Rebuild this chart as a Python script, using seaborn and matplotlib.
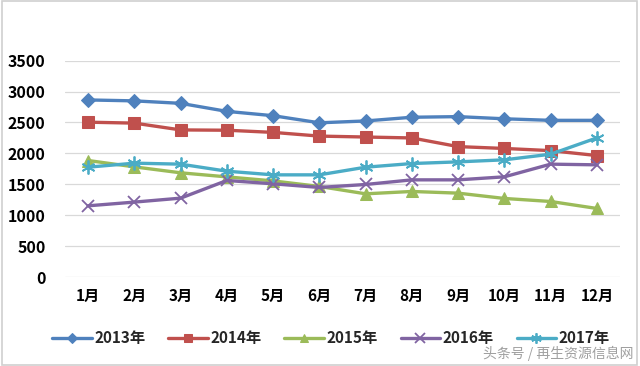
import matplotlib
matplotlib.use("Agg")
import matplotlib.pyplot as plt
import seaborn as sns
import pandas as pd
from matplotlib.patches import Rectangle

months = ["1月", "2月", "3月", "4月", "5月", "6月", "7月", "8月", "9月", "10月", "11月", "12月"]
y2013 = [2865, 2850, 2810, 2680, 2610, 2495, 2525, 2585, 2595, 2560, 2535, 2535]
y2014 = [2505, 2490, 2380, 2375, 2340, 2280, 2265, 2250, 2110, 2080, 2045, 1965]
y2015 = [1885, 1782, 1686, 1620, 1555, 1465, 1346, 1384, 1357, 1271, 1222, 1109]
y2016 = [1152, 1212, 1276, 1562, 1508, 1449, 1497, 1572, 1572, 1621, 1826, 1815]
y2017 = [1777, 1842, 1826, 1712, 1653, 1653, 1777, 1836, 1863, 1896, 1987, 2251]
series_names = ["2013年", "2014年", "2015年", "2016年", "2017年"]
yticks = [0, 500, 1000, 1500, 2000, 2500, 3000, 3500]

sns.set_theme(style="white")
plt.rcParams["font.family"] = ["Noto Sans CJK SC", "DejaVu Sans"]

fig = plt.figure(figsize=(6.4, 3.66), dpi=100)
ax = fig.add_axes([65/640, 1-277/366, (620-65)/640, (277-60.7)/366])

colors = ["#4F81BD", "#C0504D", "#9BBB59", "#8064A2", "#4BACC6"]
markers = ["D", "s", "^", "x", (6, 2, 0)]
msizes = [7, 8.5, 8.5, 9, 10]
data = [y2013, y2014, y2015, y2016, y2017]
xs = list(range(len(months)))

for name, vals, c, m, ms in zip(series_names, data, colors, markers, msizes):
    df = pd.DataFrame({"x": xs, "y": vals})
    kw = dict(markeredgecolor=c, markerfacecolor=c)
    if m in ("x", (6, 2, 0)):
        kw["markeredgewidth"] = 1.3
    sns.lineplot(data=df, x="x", y="y", ax=ax, color=c, linewidth=2.4,
                 marker=m, markersize=ms, label=name, sort=False, **kw)

ax.set_xlim(-0.5, 11.5)
ax.set_ylim(0, 3500)
ax.set_yticks(yticks)
ax.set_yticklabels([str(v) for v in yticks], fontsize=11.5, fontweight="bold", color="black")
ax.set_xticks(xs)
ax.set_xticklabels(months, fontsize=11, fontweight="bold", color="black")
ax.tick_params(axis="y", length=0, pad=14)
ax.tick_params(axis="x", length=0, pad=8)
ax.set_xlabel("")
ax.set_ylabel("")
ax.grid(axis="y", color="#D9D9D9", linewidth=0.9)
ax.grid(axis="x", visible=False)
for s in ax.spines.values():
    s.set_visible(False)

leg = ax.legend(loc="center", bbox_to_anchor=(331/640, 1-338/366), bbox_transform=fig.transFigure,
                ncol=5, frameon=False, handlelength=2.6, columnspacing=1.5, handletextpad=0.15,
                markerscale=0.75, prop={"weight": "bold", "size": 11})

fig.text(0.99, 1-353/366, "头条号 / 再生资源信息网", ha="right", va="center",
         fontsize=10, color="#A0A0A0")

fig.patches.append(Rectangle((2/640, 1/366), 635/640, 364/366, transform=fig.transFigure,
                             fill=False, edgecolor="#D0D0D0", linewidth=1.2))

fig.savefig("out.png", dpi=100)
